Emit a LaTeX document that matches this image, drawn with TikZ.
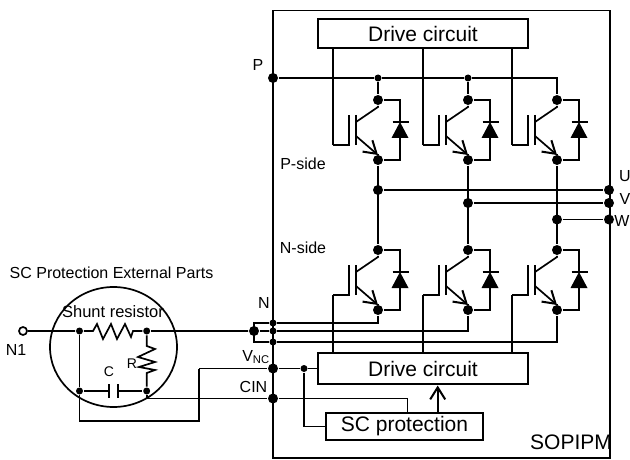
\documentclass[tikz,border=0pt]{standalone}
\usepackage{fontspec}
\setmainfont{Liberation Sans}
\usetikzlibrary{arrows.meta}

\begin{document}
\begin{tikzpicture}[
        x=1pt, y=-1pt,
        line width=1.7pt,
        block/.style={rectangle, draw, inner sep=0pt, text centered, font=\fontsize{21}{24}\selectfont},
        label/.style={inner sep=0pt, font=\fontsize{16}{18}\selectfont},
        dot/.style={circle, fill, inner sep=0pt, minimum size=10pt},
        smalldot/.style={circle, fill, inner sep=0pt, minimum size=7pt},
        arrow/.style={-{Straight Barb[length=12pt, width=15pt, line width=2pt]}},
        igbt/.pic={
            \coordinate (-gate) at (-45,45);
            \node[dot] (-col) at (0,0) {};
            \node[dot] (-emi) at (0,60) {};
            \draw (-gate) -- (-29,45) -- (-29,15);
            \draw (-22,15) -- (-22,45);
            \draw (-col) -- (0,7) -- (-22,22);
            \draw[arrow] (-22,36) -- (0,55);
            \draw (0,55) -- (-emi);
            \draw (-col) -- (22,0) -- (22,22);
            \draw (22,38) -- (22,60) -- (-emi);
            \draw (14.5,22) -- (30.5,22);
            \fill (22,22) -- (30.5,38) -- (13.5,38) -- cycle;
        }
    ]
    \useasboundingbox (0,0) rectangle (630,460);

    \node[draw, rectangle, inner sep=0pt, minimum width=337pt, minimum height=447.5pt] (module) at (441.5,234.25) {};
    \node[block, minimum width=210pt, minimum height=29pt] (topdrive) at (423,33.5) {Drive circuit};
    \node[block, minimum width=210pt, minimum height=31pt] (botdrive) at (423,368.5) {Drive circuit};
    \node[block, minimum width=157pt, minimum height=27pt] (protect) at (404.5,426.5) {SC protection};

    \pic (t1) at (378,100) {igbt};
    \pic (t2) at (468,100) {igbt};
    \pic (t3) at (557,100) {igbt};
    \pic (b1) at (378,250) {igbt};
    \pic (b2) at (468,250) {igbt};
    \pic (b3) at (557,250) {igbt};

    \node[dot] (pbus) at (273,78) {};
    \node[smalldot] (pbus1) at (378,78) {};
    \node[smalldot] (pbus2) at (468,78) {};
    \node[dot] (uin) at (378,190) {};
    \node[dot] (vin) at (468,203) {};
    \node[dot] (win) at (557,219.5) {};
    \node[dot] (uout) at (609,190) {};
    \node[dot] (vout) at (609,203) {};
    \node[dot] (wout) at (609,219.5) {};

    \draw (pbus) -- (pbus1) -- (pbus2) -- (557,78) -- (t3-col);
    \draw (pbus1) -- (t1-col);
    \draw (pbus2) -- (t2-col);
    \foreach \t in {t1, t2, t3} {
        \draw (\t-gate) -- (\t-gate |- topdrive.south);
    }
    \foreach \b in {b1, b2, b3} {
        \draw (\b-gate) -- (\b-gate |- botdrive.north);
    }
    \draw (t1-emi) -- (b1-col);
    \draw (t2-emi) -- (b2-col);
    \draw (t3-emi) -- (b3-col);
    \draw (uin) -- (uout);
    \draw (vin) -- (vout);
    \draw (win) -- (wout);

    \node[smalldot] (nbus1) at (273,323) {};
    \node[smalldot] (nbus2) at (273,331) {};
    \node[smalldot] (nbus3) at (273,342) {};
    \node[dot] (ncom) at (254,331) {};
    \draw (b1-emi) -- (378,323) -- (nbus1) -- (254,323) -- (254,342) -- (nbus3) -- (557,342) -- (b3-emi);
    \draw (ncom) -- (nbus2) -- (468,331) -- (b2-emi);

    \node[dot] (vnc) at (273,368.5) {};
    \node[smalldot] (vncin) at (304,368.5) {};
    \node[dot] (cin) at (273,398.5) {};
    \draw (199,368.5) -- (vnc) -- (vncin) -- (vncin -| botdrive.west);
    \draw (vncin) |- (protect.west);
    \draw (cin) -- (407.5,398.5) -- (407.5,413);
    \draw[arrow] (437.7,413) -- (437.7,385.5);

    \draw (113.5,347) ellipse [x radius=63.5, y radius=60];
    \node[circle, draw, fill=white, inner sep=0pt, minimum size=8pt] (none) at (23,331) {};
    \node[smalldot] (sa) at (79.5,331) {};
    \node[smalldot] (sb) at (146.7,331) {};
    \node[smalldot] (ca) at (79.5,391) {};
    \node[smalldot] (cb) at (146.7,391) {};
    \coordinate (lowa) at (79.5,421);
    \coordinate (lowb) at (199,421);
    \draw (none) -- (sa) -- (93,331) -- ++(4,-7) -- ++(6,15) -- ++(8,-15) -- ++(6,15) -- ++(8,-15) -- ++(6,13) -- ++(2,-6) -- (sb) -- (ncom);
    \draw (sb) -- (146.7,346) -- ++(8.3,3) -- ++(-17,8) -- ++(17,5) -- ++(-16,5) -- ++(16,3) -- ++(-8.3,3) -- (cb);
    \draw (sa) -- (ca) -- (lowa) -- (lowb) -- (199,368.5);
    \draw (ca) -- (109,391) (109,384) -- (109,398) (117.7,384) -- (117.7,398) (117.7,391) -- (cb);
    \draw (cb) -- (146.7,398.5) -- (cin);

    \node[label] (ptext) at (258,65) {P};
    \node[label] (ntext) at (264,303) {N};
    \node[label] (n1text) at (16,350) {N1};
    \node[label] (pside) at (303,164) {P-side};
    \node[label] (nside) at (303,248) {N-side};
    \node[label] (utext) at (625,176) {U};
    \node[label] (vtext) at (625,199) {V};
    \node[label] (wtext) at (622,221) {W};
    \node[label] (vnctext) at (256,357) {V\textsubscript{NC}};
    \node[label] (cintext) at (253.5,387) {CIN};
    \node[label, font=\fontsize{14}{16}\selectfont] (ctext) at (109,372) {C};
    \node[label, font=\fontsize{14}{16}\selectfont] (rtext) at (132,364) {R};
    \node[label] (title) at (111.5,273) {SC Protection External Parts};
    \node[label, font=\fontsize{16.5}{18}\selectfont] (shunt) at (113,312) {Shunt resistor};
    \node[label, font=\fontsize{21}{24}\selectfont] (sopipm) at (571,442) {SOPIPM};
\end{tikzpicture}
\end{document}
